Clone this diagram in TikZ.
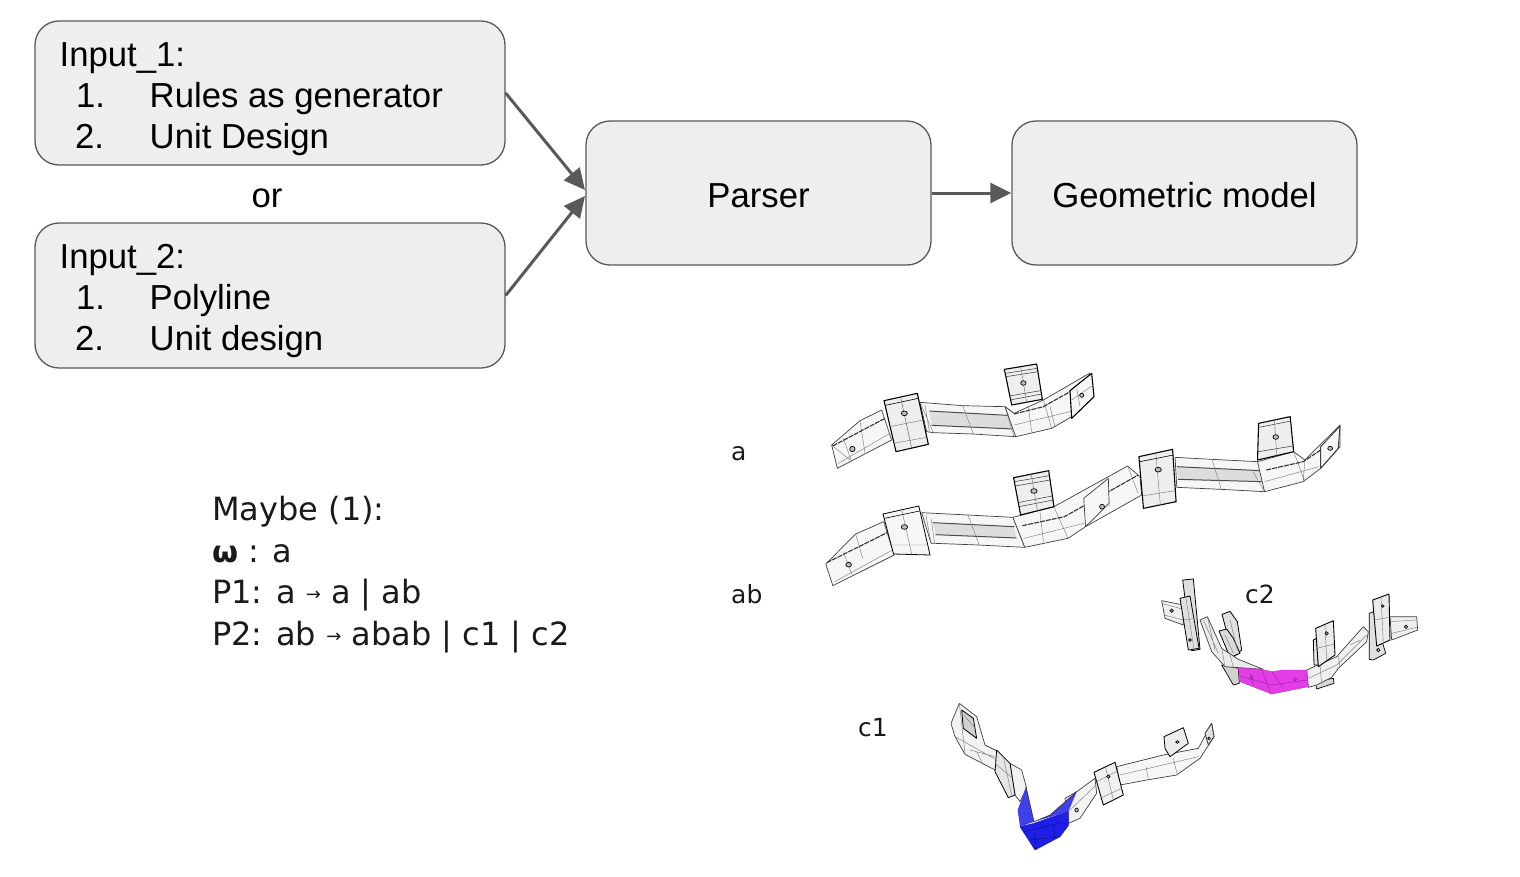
\documentclass[tikz,border=0pt]{standalone}
\usepackage{fontspec}
\setmainfont{Liberation Sans}
\newfontfamily\labelfont{DejaVu Sans}
\newfontfamily\symfont{DejaVu Sans}
\usetikzlibrary{arrows.meta}
\definecolor{boxfill}{HTML}{EEEEEE}
\definecolor{boxline}{HTML}{595959}
\definecolor{inktext}{HTML}{1A1A1A}
\definecolor{bandfill}{HTML}{F6F6F6}
\definecolor{platefill}{HTML}{EEEEEE}
\definecolor{stripfill}{HTML}{DDDDDD}
\definecolor{magentapart}{HTML}{E23DE6}
\definecolor{bluepart}{HTML}{1E1EE6}
\newcommand{\boxtext}{\fontsize{34.7}{41}\selectfont}
\newcommand{\ruletext}{\fontsize{32}{41}\selectfont\labelfont}
\newcommand{\tagtext}{\fontsize{25}{30}\selectfont\labelfont}
\newcommand{\smallarrow}{\raisebox{3pt}{\symfont\fontsize{18}{18}\selectfont →}}
\newcommand{\boxcentred}[1]{\raisebox{-14pt}[0pt][0pt]{#1}}
\tikzset{
  flowbox/.style={draw=boxline,line width=1.3pt,fill=boxfill,rounded corners=24pt,inner sep=0pt,text=black,font=\boxtext},
  flowarrow/.style={draw=boxline,line width=3pt,-{Triangle[length=21pt,width=20pt,fill=boxline]}},
  boxlabel/.style={anchor=base west,inner sep=0pt,text=black,font=\boxtext},
  rulelabel/.style={anchor=base west,inner sep=0pt,text=inktext,font=\ruletext},
  taglabel/.style={anchor=base west,inner sep=0pt,text=inktext,font=\tagtext},
  band/.style={draw=black!75,line width=0.7pt,fill=bandfill,line join=round},
  plate/.style={draw=black,line width=1.1pt,fill=platefill,line join=round},
  fine/.style={draw=black!50,line width=0.45pt},
  centreline/.style={draw=black!80,line width=1.1pt,dash pattern=on 5pt off 1pt},
  strip/.style={fill=stripfill,draw=none},
  stripedge/.style={draw=black!70,line width=1pt},
  hole/.style={draw=black,line width=0.7pt,fill=black!25},
  model/.style={x=0.33333pt,y=-0.33333pt},
}
\begin{document}
\begin{tikzpicture}[x=1pt,y=-1pt]
\useasboundingbox (0,0) rectangle (1520,876);
\fill[white] (0,0) rectangle (1520,876);

% flow boxes
\node[flowbox,minimum width=470pt,minimum height=144pt] (input1) at (270,93) {};
\node[flowbox,minimum width=470pt,minimum height=145pt] (input2) at (270,295.5) {};
\node[flowbox,minimum width=345pt,minimum height=144pt] (parser) at (758.5,193) {\boxcentred{Parser}};
\node[flowbox,minimum width=345pt,minimum height=144pt] (geo) at (1184.5,193) {\boxcentred{Geometric model}};
\coordinate (parserupper) at (585,190);
\coordinate (parserlower) at (585,196);

\draw[flowarrow] (input1.east) -- (parserupper);
\draw[flowarrow] (input2.east) -- (parserlower);
\draw[flowarrow] (parser.east) -- (geo.west);

\node[boxlabel] (i1t) at (59.5,66) {Input\_1:};
\node[boxlabel] (i1n1) at (76,107) {1.};
\node[boxlabel] (i1a) at (149.5,107) {Rules as generator};
\node[boxlabel] (i1n2) at (75,148) {2.};
\node[boxlabel] (i1b) at (149.5,148) {Unit Design};
\node[boxlabel,anchor=base] (ortext) at (267,207) {or};
\node[boxlabel] (i2t) at (59.5,268) {Input\_2:};
\node[boxlabel] (i2n1) at (76,309) {1.};
\node[boxlabel] (i2a) at (149.5,309) {Polyline};
\node[boxlabel] (i2n2) at (75,350) {2.};
\node[boxlabel] (i2b) at (149.5,350) {Unit design};

% grammar
\node[rulelabel] (r1) at (212,520) {Maybe (1):};
\node[rulelabel] (r2) at (212,562) {{\symfont\bfseries\fontsize{30}{30}\selectfont ω} : a};
\node[rulelabel] (r3) at (212,603) {P1: a \smallarrow\ a | ab};
\node[rulelabel] (r4) at (212,645) {P2: ab \smallarrow\ abab | c1 | c2};

\node[taglabel] (ta) at (731,460) {a};
\node[taglabel] (tab) at (731,603) {ab};
\node[taglabel] (tc2) at (1245,603) {c2};
\node[taglabel] (tc1) at (858,736) {c1};

% model a
\begin{scope}[shift={(810,350)},model]
\draw[band] (65,285)--(150,212)--(215,180)--(245,270)--(82,355)--cycle;
\draw[fine] (150,212)--(165,310) (215,180)--(245,270) (65,285)--(120,330) (100,265)--(125,335) (85,340)--(240,250);
\draw[centreline] (68,288)--(225,205);
\draw[band] (330,157)--(458,167)--(585,170)--(612,190)--(617,260)--(490,252)--(370,248)--(350,245)--cycle;
\draw[strip] (358,183)--(610,197)--(612,237)--(365,226)--cycle;
\draw[stripedge] (358,183)--(610,197) (365,226)--(612,237);
\draw[fine] (458,167)--(490,252) (585,170)--(612,260) (330,157)--(370,248) (345,165)--(358,245);
\draw[band] (585,170)--(612,190)--(700,150)--(838,70)--(850,140)--(785,200)--(725,235)--(617,260)--cycle;
\draw[fine] (700,150)--(725,235) (655,170)--(665,245) (612,225)--(780,185) (720,170)--(735,230);
\draw[centreline] (612,192)--(700,170)--(780,125);
\draw[plate,fill=bandfill] (780,122)--(845,70)--(852,140)--(785,205)--cycle;
\draw[fine] (800,115)--(810,170) (785,150)--(850,105);
\draw[hole] (815,136) ellipse [x radius=6,y radius=6];
\draw[plate] (222,152)--(322,130)--(355,283)--(258,305)--cycle;
\draw[fine] (240,230)--(340,210) (250,280)--(350,262);
\draw[draw=black,line width=0.6pt] (226,166)--(325,145);
\draw[draw=black!60,line width=0.5pt] (272,142)--(305,294);
\draw[hole] (283,190) ellipse [x radius=9,y radius=7];
\draw[hole] (127,297) ellipse [x radius=8,y radius=8];
\draw[plate] (583,58)--(680,42)--(697,148)--(605,165)--cycle;
\draw[draw=black!80,line width=0.5pt] (586,70)--(682,55) (588,80)--(684,65) (600,150)--(695,132) (598,138)--(692,122);
\draw[draw=black!50,line width=0.5pt] (632,50)--(650,157);
\draw[hole] (640,99) ellipse [x radius=8,y radius=7];
\end{scope}

% model ab
\begin{scope}[shift={(810,410)},x=0.351pt,y=-0.33333pt]
\draw[band] (45,462)--(130,372)--(210,335)--(240,435)--(65,527)--cycle;
\draw[fine] (130,372)--(150,445) (210,335)--(240,435) (95,425)--(120,495) (70,515)--(235,420);
\draw[centreline] (48,458)--(225,365);
\draw[band] (318,308)--(450,315)--(578,322)--(612,412)--(480,405)--(355,400)--(345,400)--cycle;
\draw[strip] (350,338)--(582,350)--(588,384)--(358,374)--cycle;
\draw[stripedge] (350,338)--(582,350) (358,374)--(588,384);
\draw[fine] (450,315)--(482,405) (345,325)--(355,400) (330,315)--(345,400);
\draw[band] (578,322)--(695,290)--(905,168)--(940,200)--(945,255)--(785,350)--(735,385)--(612,412)--cycle;
\draw[fine] (695,290)--(735,385) (905,168)--(935,250) (610,385)--(780,340) (655,305)--(665,395) (850,215)--(852,290);
\draw[centreline] (605,347)--(725,320)--(935,195);
\draw[band] (780,265)--(850,205)--(852,280)--(785,350)--cycle;
\draw[hole] (832,290) ellipse [x radius=7,y radius=7];
\draw[plate,fill=bandfill,line width=0.8pt] (208,312)--(310,288)--(342,435)--(238,432)--cycle;
\draw[fine] (225,405)--(335,405) (262,302)--(290,434);
\draw[draw=black,line width=0.6pt] (212,325)--(312,303);
\draw[hole] (269,351) ellipse [x radius=9,y radius=7];
\draw[hole] (110,464) ellipse [x radius=8,y radius=7];
\draw[plate] (580,203)--(680,182)--(695,290)--(600,315)--cycle;
\draw[draw=black!80,line width=0.5pt] (582,215)--(682,197) (584,228)--(684,210) (595,290)--(694,270) (592,278)--(690,258);
\draw[draw=black!50,line width=0.5pt] (630,192)--(648,302);
\draw[hole] (638,243) ellipse [x radius=9,y radius=7];
\draw[band] (1040,142)--(1145,148)--(1275,155)--(1300,180)--(1295,245)--(1170,238)--(1045,232)--cycle;
\draw[strip] (1045,170)--(1285,182)--(1290,215)--(1048,208)--cycle;
\draw[stripedge] (1045,170)--(1285,182) (1048,208)--(1290,215);
\draw[fine] (1145,148)--(1172,238) (1262,185)--(1295,245);
\draw[band] (1275,155)--(1378,125)--(1410,150)--(1510,45)--(1510,110)--(1455,175)--(1405,215)--(1295,245)--cycle;
\draw[fine] (1378,125)--(1410,215) (1410,150)--(1405,215) (1295,215)--(1450,170);
\draw[centreline] (1300,180)--(1405,155)--(1455,120);
\draw[band,line width=1pt] (1455,110)--(1510,48)--(1505,115)--(1455,175)--cycle;
\draw[hole] (1482,115) ellipse [x radius=7,y radius=6];
\draw[plate] (937,140)--(1033,118)--(1043,275)--(950,295)--cycle;
\draw[fine] (945,258)--(1040,242) (985,128)--(998,284);
\draw[draw=black,line width=0.6pt] (940,155)--(1035,135);
\draw[hole] (992,179) ellipse [x radius=9,y radius=7];
\draw[plate] (1278,40)--(1368,20)--(1378,125)--(1275,150)--cycle;
\draw[draw=black!80,line width=0.5pt] (1280,52)--(1370,33) (1278,125)--(1375,108);
\draw[draw=black!50,line width=0.5pt] (1323,30)--(1330,138);
\draw[hole] (1327,81) ellipse [x radius=8,y radius=7];
\end{scope}

% model c2
\begin{scope}[shift={(1150,570)},model]
\draw[band,fill=platefill] (35,92)--(100,105)--(100,165)--(45,145)--cycle;
\draw[fine] (35,100)--(100,118) (42,135)--(100,150);
\draw[hole] (65,122) ellipse [x radius=5,y radius=5];
\draw[plate,line width=0.7pt,fill=black!18] (215,285)--(265,295)--(268,340)--(250,345)--cycle;
\draw[plate,line width=0.8pt,fill=black!12] (216,133)--(240,124)--(262,155)--(275,240)--(250,262)--cycle;
\draw[plate,line width=0.8pt,fill=black!14] (207,183)--(230,177)--(250,205)--(270,250)--(240,262)--cycle;
\draw[fine] (240,150)--(262,240) (225,195)--(250,250);
\draw[band,fill=black!8] (150,150)--(172,140)--(215,235)--(265,268)--(340,298)--(265,293)--(225,290)--(185,245)--cycle;
\draw[fine] (172,140)--(195,240) (215,235)--(225,290) (240,255)--(250,292) (160,150)--(205,250);
\draw[plate,line width=0.8pt,fill=black!12] (98,30)--(130,27)--(150,238)--(125,242)--cycle;
\draw[plate,line width=0.8pt,fill=black!12] (90,85)--(120,78)--(147,235)--(115,240)--cycle;
\draw[fine] (108,85)--(132,238) (100,150)--(137,145);
\draw[hole] (120,210) ellipse [x radius=4,y radius=4];
\draw[plate,line width=0.7pt,fill=black!15] (495,335)--(550,325)--(552,340)--(500,357)--cycle;
\draw[band,fill=black!6] (470,300)--(560,260)--(640,170)--(655,185)--(650,215)--(565,295)--(545,322)--(500,345)--(475,352)--cycle;
\draw[fine] (510,285)--(515,342) (565,258)--(570,295) (600,225)--(630,210) (475,325)--(560,285)--(650,195);
\draw[plate,line width=0.8pt,fill=black!10] (490,210)--(500,205)--(505,285)--(492,285)--cycle;
\draw[plate,line width=0.9pt,fill=black!8] (497,175)--(550,152)--(555,255)--(505,290)--cycle;
\draw[fine] (525,165)--(530,270) (500,235)--(553,222);
\draw[hole] (530,190) ellipse [x radius=5,y radius=5];
\draw[plate,line width=0.7pt,fill=black!12] (658,130)--(670,125)--(707,250)--(670,270)--(658,268)--cycle;
\draw[band,fill=platefill] (720,140)--(800,140)--(803,180)--(725,210)--cycle;
\draw[fine] (720,155)--(800,150) (725,190)--(800,172);
\draw[hole] (768,170) ellipse [x radius=5,y radius=5];
\draw[plate,line width=0.9pt,fill=black!8] (668,90)--(717,72)--(720,210)--(680,228)--cycle;
\draw[fine] (693,80)--(700,220) (672,150)--(718,142);
\draw[hole] (698,108) ellipse [x radius=4,y radius=4];
\draw[hole] (685,240) ellipse [x radius=5,y radius=5];
\draw[fill=magentapart,draw=magentapart!80!black,line width=0.4pt] (265,293)--(335,298)--(365,305)--(400,300)--(470,300)--(475,350)--(365,372)--(270,335)--cycle;
\draw[draw=magentapart!65!black,line width=0.4pt] (335,298)--(362,370) (365,305)--(400,355) (270,318)--(365,345)--(472,330) (300,310)--(310,345);
\draw[draw=magentapart!65!black,line width=0.5pt] (305,322) circle [radius=5] (435,328) circle [radius=5];
\end{scope}

% model c1
\begin{scope}[shift={(940,695)},model]
\draw[band,fill=black!5] (33,85)--(58,25)--(110,65)--(135,150)--(175,170)--(165,225)--(75,178)--(45,125)--cycle;
\draw[fine] (58,25)--(75,175) (90,165)--(165,185) (110,170)--(130,210) (45,125)--(90,150)--(170,195);
\draw[plate,line width=0.8pt,fill=black!18] (65,45)--(100,70)--(110,130)--(70,100)--cycle;
\draw[fine] (72,60)--(105,100);
\draw[band,fill=black!5] (210,205)--(245,225)--(260,280)--(240,320)--(225,300)--cycle;
\draw[plate,line width=0.8pt,fill=black!10] (170,165)--(210,205)--(225,300)--(205,308)--(165,230)--cycle;
\draw[fine] (190,185)--(215,300) (165,205)--(218,250);
\draw[band,fill=black!5] (375,310)--(410,290)--(465,250)--(470,295)--(420,370)--(385,385)--cycle;
\draw[fine] (385,350)--(468,270);
% lighter and darker parts of the blue segment
\fill[bluepart!85!white] (258,275)--(282,380)--(240,395)--(233,345)--cycle;
\fill[bluepart!85!white] (282,380)--(330,360)--(410,290)--(385,350)--cycle;
\draw[fill=bluepart,draw=bluepart!70!black,line width=0.4pt] (240,395)--(282,385)--(330,368)--(385,350)--(385,392)--(360,425)--(285,465)--cycle;
\draw[draw=bluepart!50!black,line width=0.4pt] (250,410)--(360,385) (270,435)--(360,425) (282,415)--(290,462) (340,390)--(345,430);
\draw[draw=black!80,line width=0.6pt] (258,275)--(282,380)--(330,360)--(410,290);
\draw[hole] (410,345) ellipse [x radius=5,y radius=6];
\draw[band] (530,215)--(670,180)--(775,160)--(815,85)--(822,125)--(780,190)--(710,240)--(620,255)--(540,270)--cycle;
\draw[fine] (618,215)--(625,255) (700,190)--(712,240) (540,240)--(775,185);
\draw[plate,line width=0.8pt,fill=black!8] (672,125)--(730,98)--(745,145)--(690,185)--(675,160)--cycle;
\draw[hole] (712,141) ellipse [x radius=5,y radius=4];
\draw[band,line width=0.9pt,fill=black!12] (795,115)--(815,85)--(822,125)--(805,150)--cycle;
\draw[hole] (807,130) ellipse [x radius=4,y radius=4];
\draw[plate,line width=0.9pt,fill=black!6] (462,232)--(525,202)--(550,300)--(490,330)--cycle;
\draw[fine] (470,260)--(532,228) (480,310)--(545,280) (497,218)--(520,315);
\draw[hole] (505,245) ellipse [x radius=5,y radius=5];
\end{scope}
\end{tikzpicture}
\end{document}
